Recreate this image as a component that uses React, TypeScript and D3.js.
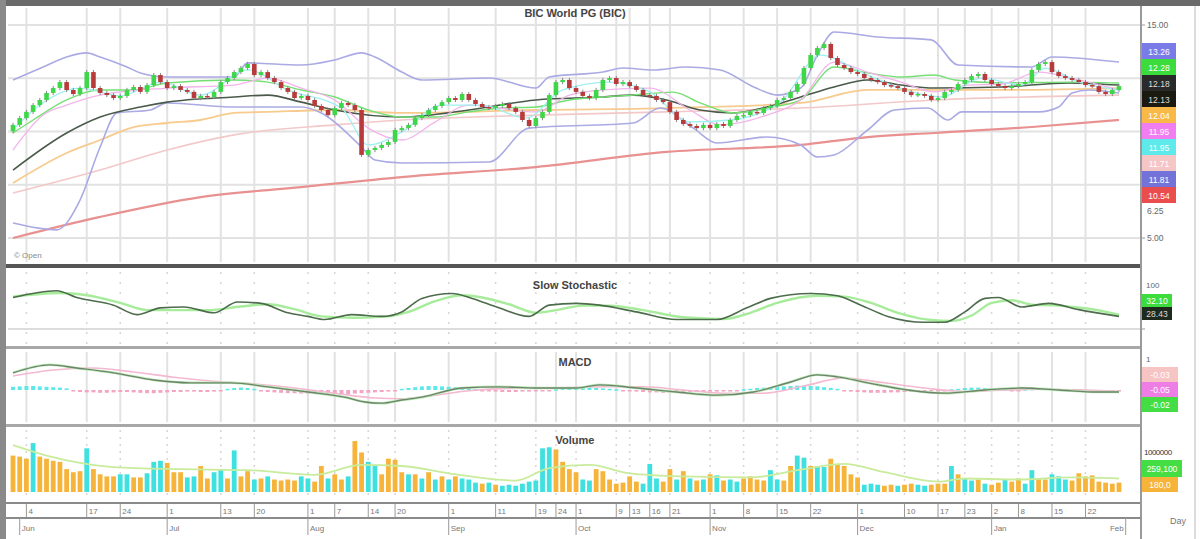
import React from "react";
import * as d3 from "d3";

// ---------- DATA ----------
const title = "BIC World PG (BIC)";
const closes = [
  10.31, 10.63, 10.92, 11.24, 11.48, 11.81, 12.04, 12.32, 11.95, 11.76,
  12.04, 12.79, 12.04, 11.81, 11.71, 11.57, 11.67, 11.95, 12.09, 11.86,
  12.18, 12.65, 12.32, 12.04, 12.13, 11.95, 11.86, 11.57, 11.67, 11.62,
  11.86, 12.32, 12.51, 12.79, 12.98, 13.17, 12.65, 12.79, 12.51, 12.32,
  12.04, 11.86, 11.57, 11.67, 11.48, 11.2, 11.01, 10.77, 11.1, 11.34,
  11.24, 11.01, 8.9, 9.13, 9.23, 9.37, 9.51, 10.07, 10.16, 10.31,
  10.63, 10.77, 11.01, 11.2, 11.38, 11.57, 11.48, 11.76, 11.48, 11.29,
  11.15, 11.1, 11.2, 11.29, 11.1, 10.92, 10.54, 10.26, 10.63, 10.92,
  11.71, 12.32, 12.42, 12.04, 11.86, 11.67, 11.57, 11.95, 12.42, 12.51,
  12.23, 12.32, 12.13, 11.95, 11.71, 11.67, 11.48, 11.38, 10.92, 10.54,
  10.35, 10.26, 10.16, 10.31, 10.16, 10.35, 10.26, 10.54, 10.73, 10.77,
  10.92, 10.87, 11.1, 11.2, 11.48, 11.57, 11.86, 12.23, 12.98, 13.59,
  13.92, 14.11, 13.45, 13.12, 12.98, 12.79, 12.7, 12.51, 12.42, 12.32,
  12.18, 12.13, 12.04, 11.86, 11.71, 11.76, 11.67, 11.48, 11.57, 11.86,
  11.95, 12.23, 12.42, 12.6, 12.7, 12.42, 12.23, 12.13, 12.04, 12.13,
  12.23, 12.32, 12.89, 13.17, 13.26, 12.79, 12.6, 12.51, 12.42, 12.32,
  12.18, 12.13, 11.86, 11.76, 11.95, 12.13,
];

const bbUpper: [number, number][] = [
  [0, 12.42], [4.5, 13.03], [8, 13.5], [11, 13.69], [13, 13.5], [17, 13.03], [19, 12.75],
  [23, 12.56], [33, 12.56], [35, 13.22], [43, 13.12], [48, 13.36], [52, 13.69], [54, 13.5],
  [58, 12.79], [61, 12.42], [71, 12.51], [78, 12.04], [80, 12.56], [88, 12.79], [91, 12.98],
  [95.5, 12.89], [100.5, 13.03], [105.5, 12.89], [110.5, 12.09], [114, 11.71], [117.5, 12.04],
  [120, 13.59], [122.5, 14.67], [129, 14.44], [137, 14.3], [141, 13.12], [152, 13.03],
  [155, 13.5], [165, 13.26],
];
const bbLower: [number, number][] = [
  [0, 5.7], [6.5, 5.38], [10, 6.78], [13, 9.27], [15.5, 10.87], [20.5, 11.01], [23, 11.34],
  [33, 11.15], [43, 11.15], [46, 10.87], [52, 9.27], [54, 8.66], [58, 8.52], [71, 8.57],
  [77, 10.16], [92.5, 10.4], [96.5, 11.1], [101.5, 10.16], [105, 9.46], [112.5, 9.74],
  [117.5, 9.37], [120, 8.8], [122.5, 8.9], [127.5, 10.07], [131.5, 11.01], [136.5, 11.1],
  [139.5, 10.54], [141.5, 10.92], [153, 10.92], [156, 11.15], [158, 11.81], [160.5, 11.95],
  [165, 11.81],
];
const maDark: [number, number][] = [
  [0, 8.19], [8, 9.93], [13, 10.68], [19, 11.15], [23, 11.38], [33, 11.62], [38, 11.71],
  [43, 11.38], [48, 11.01], [58, 10.68], [68, 11.01], [78, 11.48], [88, 11.62], [92.5, 11.71],
  [97.5, 11.48], [102.5, 11.01], [107.5, 10.87], [112.5, 11.15], [117.5, 11.62], [122.5, 12.09],
  [127.5, 12.42], [132.5, 12.18], [137.5, 12.04], [147.5, 12.09], [157.5, 12.28], [165, 12.18],
];
const maGreen: [number, number][] = [
  [0, 9.93], [3, 10.54], [8, 11.48], [13, 11.95], [18, 11.95], [23, 12.28], [33, 12.42],
  [38, 12.32], [43, 11.95], [48, 11.62], [53, 11.01], [58, 10.68], [63, 10.68], [68, 10.92],
  [73, 11.1], [78, 11.15], [83, 11.48], [88, 11.62], [92.5, 11.71], [98.5, 11.85], [102.5, 11.34],
  [107.5, 10.87], [112.5, 11.1], [117.5, 11.48], [122.5, 13.03], [127.5, 12.75], [132.5, 12.56],
  [137.5, 12.65], [140.5, 12.42], [147.5, 12.28], [157.5, 12.32], [165, 12.28],
];
const maOrange: [number, number][] = [
  [0, 7.58], [8, 8.99], [13, 9.6], [18, 10.21], [23, 10.4], [28, 10.54], [33, 10.87],
  [38, 10.92], [48, 11.01], [58, 10.87], [78, 11.01], [97.5, 11.1], [117.5, 11.34],
  [127.5, 11.95], [137.5, 11.95], [147.5, 11.95], [165, 12.04],
];
const maPink: [number, number][] = [
  [0, 7.11], [13, 8.19], [23, 9.13], [33, 9.84], [48, 10.31], [58, 10.54], [78, 10.77],
  [97.5, 10.92], [117.5, 11.1], [137.5, 11.48], [165, 11.71],
];
const maMagenta: [number, number][] = [
  [0, 9.13], [4.5, 10.77], [8, 11.24], [13, 11.71], [23, 12.04], [33, 12.18], [38, 12.51],
  [43, 12.04], [48, 11.48], [53, 10.16], [58, 9.6], [63, 10.45], [68, 11.24], [78, 10.92],
  [83, 11.71], [88, 11.95], [95, 12.04], [101, 11.01], [105.5, 10.31], [112.5, 10.77],
  [117.5, 11.48], [122.5, 13.26], [127.5, 12.79], [132.5, 12.32], [137.5, 11.86], [142.5, 12.18],
  [147.5, 12.23], [153, 12.79], [159, 12.42], [165, 11.95],
];
const maCyan: [number, number][] = [
  [0, 10.07], [4, 11.24], [10, 12.04], [16, 11.67], [22, 12.32], [28, 11.71], [35, 12.89],
  [41, 11.95], [49, 11.1], [53, 9.37], [58, 9.98], [64, 11.24], [70, 11.24], [76.5, 10.63],
  [82, 11.95], [89, 12.32], [95, 11.86], [101, 10.45], [107, 10.54], [114.5, 11.38],
  [120.5, 13.59], [126.5, 12.79], [134, 11.86], [138.5, 11.62], [144.5, 12.51], [150.5, 12.18],
  [154, 12.98], [159, 12.32], [165, 11.95],
];
const ma200: [number, number][] = [
  [0, 5.0], [13, 5.99], [28, 6.92], [43, 7.39], [58, 7.86], [78, 8.33], [97.5, 9.04],
  [117.5, 9.37], [127.5, 9.74], [137.5, 9.93], [152, 10.21], [165, 10.54],
];

const stochK: [number, number][] = [
  [0, 70], [6.5, 85], [9.5, 70], [15, 53], [18.5, 32], [22, 47], [25.5, 49], [30, 36],
  [33.5, 60], [37, 57], [41, 36], [44, 28], [46.5, 21], [50.5, 32], [55, 28], [58, 38],
  [61, 68], [65.5, 79], [68.5, 68], [72.5, 47], [77, 28], [80, 53], [84, 57], [87.5, 53],
  [93, 38], [99, 21], [105, 21], [109.5, 47], [113, 68], [119, 79], [123, 74], [126.5, 53],
  [130.5, 28], [136, 15], [139, 15], [142, 38], [145, 68], [147, 70], [150.5, 49],
  [154.5, 57], [159, 43], [165, 28],
];
const stochD: [number, number][] = [
  [0, 72], [7, 80], [11, 75], [16, 58], [20, 42], [24, 42], [29, 42], [34, 50], [38, 55],
  [42, 44], [46, 28], [51, 25], [56, 28], [59, 38], [63, 62], [67, 75], [70, 70], [74, 55],
  [78, 36], [81, 42], [85, 52], [89, 52], [94, 42], [100, 26], [106, 22], [110, 36],
  [114, 58], [120, 74], [124, 72], [128, 58], [132, 36], [137, 20], [140, 18], [143, 30],
  [146, 58], [149, 64], [152, 54], [156, 52], [160, 46], [165, 32],
];

const macdLine: [number, number][] = [
  [0, 0.43], [5.5, 0.63], [9.5, 0.55], [15, 0.43], [21, 0.25], [26.5, 0.18], [32.5, 0.18],
  [38, 0.08], [44, -0.05], [49.5, -0.18], [52.5, -0.3], [55, -0.33], [58, -0.25], [61, -0.18],
  [67, 0.05], [72.5, 0.08], [78, 0.05], [84, 0.05], [87.5, 0.13], [93, 0.05], [99, -0.05],
  [105, -0.13], [110.5, -0.05], [116, 0.2], [120, 0.38], [123, 0.33], [127.5, 0.18],
  [133.5, 0.0], [139, -0.08], [145, 0.0], [150.5, 0.05], [156, 0.0], [162, -0.05], [165, -0.05],
];
const macdSignal: [number, number][] = [
  [0, 0.35], [6, 0.5], [12, 0.55], [18, 0.45], [24, 0.32], [30, 0.22], [36, 0.15], [42, 0.05],
  [48, -0.08], [54, -0.2], [58, -0.22], [62, -0.15], [68, -0.02], [74, 0.04], [80, 0.05],
  [88, 0.08], [94, 0.08], [100, 0.0], [106, -0.08], [112, -0.08], [118, 0.1], [124, 0.3],
  [130, 0.18], [136, 0.05], [142, -0.04], [148, 0.0], [154, 0.02], [160, 0.0], [165, -0.03],
];
const macdHist = [
  0.08, 0.09, 0.1, 0.1, 0.09, 0.08, 0.07, 0.06, 0.04,
  -0.03, -0.05, -0.06, -0.06, -0.07, -0.07, -0.06, -0.05, -0.05, -0.06, -0.07, -0.08, -0.08,
  -0.07, -0.06, -0.05, -0.05, -0.04, -0.04, -0.05, -0.05, -0.04, -0.03,
  0.03, 0.05, 0.06, 0.05, 0.03,
  -0.03, -0.05, -0.06, -0.07, -0.08, -0.08, -0.09, -0.09, -0.08, -0.08, -0.09, -0.1, -0.11,
  -0.1, -0.09, -0.08, -0.07, -0.06, -0.05, -0.04, -0.02,
  0.03, 0.05, 0.07, 0.09, 0.1, 0.1, 0.09, 0.08, 0.07, 0.05, 0.04, 0.02,
  -0.02, -0.03, -0.04, -0.05, -0.05, -0.05, -0.04, -0.04, -0.03, -0.02, -0.01,
  0.02, 0.04, 0.06, 0.07, 0.07, 0.06, 0.05, 0.04, 0.03, 0.02,
  -0.02, -0.03, -0.04, -0.05, -0.06, -0.06, -0.07, -0.07, -0.07, -0.06, -0.06, -0.05, -0.05,
  -0.04, -0.04, -0.03, -0.02, -0.01,
  0.02, 0.03, 0.05, 0.06, 0.07, 0.08, 0.09, 0.1, 0.11, 0.11, 0.1, 0.09, 0.07, 0.05, 0.03,
  -0.02, -0.04, -0.05, -0.06, -0.07, -0.07, -0.07, -0.06, -0.06, -0.05, -0.05, -0.04, -0.04,
  -0.03, -0.02, -0.01,
  0.02, 0.03, 0.05, 0.06, 0.06, 0.05, 0.04, 0.03, 0.02,
  -0.01, -0.02,
  0.02, 0.03, 0.04, 0.04, 0.03, 0.02, 0.01,
  -0.01, -0.02, -0.03, -0.03, -0.03, -0.02, -0.02, -0.01,
];

// volume in thousands
const volumes = [
  700, 680, 640, 940, 680, 640, 600, 580, 440, 380, 400, 840, 440, 340, 300, 300, 340, 340,
  280, 280, 360, 580, 600, 560, 380, 380, 280, 300, 500, 260, 380, 440, 260, 800, 300, 400,
  240, 260, 300, 240, 220, 240, 220, 300, 260, 200, 500, 260, 340, 240, 300, 980, 760, 580,
  500, 340, 640, 620, 380, 340, 340, 260, 380, 240, 300, 240, 300, 260, 240, 180, 160, 180,
  140, 120, 140, 120, 160, 200, 220, 840, 860, 820, 580, 440, 380, 240, 220, 440, 400, 240,
  160, 180, 300, 200, 160, 540, 260, 200, 440, 240, 400, 260, 220, 240, 340, 320, 220, 240,
  200, 260, 300, 240, 220, 420, 240, 220, 500, 700, 660, 500, 500, 480, 640, 520, 500, 340,
  280, 140, 160, 140, 120, 140, 120, 140, 160, 140, 120, 140, 160, 160, 500, 340, 260, 220,
  240, 160, 140, 180, 240, 200, 260, 160, 420, 260, 240, 340, 300, 240, 220, 360, 300, 320,
  200, 180, 160, 180,
];
const volumeColor =
  "oooconooooocooooccoocccooocconccoconcocoooocconcoocooccoooocococococccococcccccccoooocconooooocccoocococococcooooccooccoccooooocccoocooccooococcocoocooccoocccoooo";
const volumeAvg: [number, number][] = [
  [0, 900], [5, 700], [10, 560], [15, 480], [25, 440], [35, 420], [45, 330], [52, 520],
  [58, 500], [65, 360], [75, 220], [80, 460], [86, 520], [92, 360], [100, 300], [110, 280],
  [118, 440], [124, 540], [130, 380], [138, 200], [142, 260], [150, 240], [158, 280], [165, 260],
];

const priceGrid = [15, 12.5, 10, 7.5, 5];
const priceLabels = [15, 6.25, 5];
const dayTicks = [2, 11, 16, 23, 31, 36, 44, 48, 53, 57, 65, 72, 78, 81, 84, 90, 92, 95, 98, 104, 109, 114, 119, 126, 133, 138, 142, 146, 150, 155, 160];
const dayLabels = ["4", "17", "24", "1", "13", "20", "1", "7", "14", "20", "1", "11", "19", "24", "1", "9", "13", "16", "21", "1", "8", "15", "22", "1", "10", "17", "23", "2", "8", "15", "22"];
const monthTicks = [1, 23, 44, 65, 84, 104, 126, 146, 166];
const monthLabels = ["Jun", "Jul", "Aug", "Sep", "Oct", "Nov", "Dec", "Jan", "Feb"];

const priceLegend = [
  { color: "#7b7be8", label: "13.26" },
  { color: "#3ddc3d", label: "12.28" },
  { color: "#2a2a2a", label: "12.18" },
  { color: "#1a1a10", label: "12.13" },
  { color: "#f9b948", label: "12.04" },
  { color: "#f07ef0", label: "11.95" },
  { color: "#5eeaea", label: "11.95" },
  { color: "#f5c6c6", label: "11.71" },
  { color: "#7272d8", label: "11.81" },
  { color: "#ea4d4d", label: "10.54" },
];

// ---------- CHART ----------
const W = 1200;
const H = 539;
const L = 8;
const R = 1141;
const FONT = "'Liberation Sans', Arial, sans-serif";

export default function App() {
  const N = closes.length;
  const x = d3.scaleLinear().domain([0, N - 1]).range([13, 1119]);
  const yP = d3.scaleLinear().domain([5, 15]).range([238, 25]);
  const yS = d3.scaleLinear().domain([0, 100]).range([329, 284]);
  const yM = d3.scaleLinear().domain([-1, 1]).range([430, 350]);
  const yV = d3.scaleLinear().domain([0, 1000]).range([492, 440]);

  const lineP = d3.line<[number, number]>().x((d) => x(d[0])).y((d) => yP(d[1])).curve(d3.curveMonotoneX);
  const lineS = d3.line<[number, number]>().x((d) => x(d[0])).y((d) => yS(d[1])).curve(d3.curveMonotoneX);
  const lineM = d3.line<[number, number]>().x((d) => x(d[0])).y((d) => yM(d[1])).curve(d3.curveMonotoneX);
  const lineV = d3.line<[number, number]>().x((d) => x(d[0])).y((d) => yV(d[1])).curve(d3.curveMonotoneX);

  const candles = closes.map((c, i) => {
    const o = i === 0 ? c - 0.3 : closes[i - 1];
    return { i, o, c, h: Math.max(o, c) + 0.1, l: Math.min(o, c) - 0.1 };
  });
  const cw = 4.6;

  const gridColor = "#e2e2e2";

  return (
    <svg width={W} height={H} style={{ position: "absolute", left: 0, top: 0, background: "#fff" }} fontFamily={FONT}>
      <defs>
        <clipPath id="mainClip"><rect x={L} y={6} width={R - L} height={258} /></clipPath>
      </defs>
      <rect x={0} y={0} width={W} height={H} fill="#fff" />

      {/* ---- main price panel ---- */}
      {priceGrid.map((t) => (
        <line key={"hg" + t} x1={L} x2={R} y1={yP(t)} y2={yP(t)} stroke={gridColor} strokeWidth={2} />
      ))}
      {dayTicks.map((d) => (
        <line key={"vg" + d} x1={x(d)} x2={x(d)} y1={8} y2={262} stroke={gridColor} strokeWidth={2} />
      ))}
      <text x={575} y={17} textAnchor="middle" fontSize={11} fill="#444" fontWeight="bold">{title}</text>

      <g clipPath="url(#mainClip)" fill="none">
        <path d={lineP(ma200) || ""} stroke="#e99090" strokeWidth={2.2} />
        <path d={lineP(maPink) || ""} stroke="#f3c8c8" strokeWidth={1.6} />
        <path d={lineP(maOrange) || ""} stroke="#f7cb8e" strokeWidth={1.8} />
        <path d={lineP(bbUpper) || ""} stroke="#aaaae4" strokeWidth={1.6} />
        <path d={lineP(bbLower) || ""} stroke="#aaaae4" strokeWidth={1.6} />
        <path d={lineP(maDark) || ""} stroke="#4a5a4a" strokeWidth={1.6} />
        <path d={lineP(maGreen) || ""} stroke="#74e074" strokeWidth={1.4} />
        <path d={lineP(maMagenta) || ""} stroke="#f2b4ea" strokeWidth={1.3} />
        <path d={lineP(maCyan) || ""} stroke="#9ff0f0" strokeWidth={1.3} />
        {candles.map((k) => {
          const up = k.c >= k.o;
          const col = up ? "#3fd64a" : "#b83a3a";
          const top = yP(Math.max(k.o, k.c));
          const bot = yP(Math.min(k.o, k.c));
          return (
            <g key={"c" + k.i}>
              <line x1={x(k.i)} x2={x(k.i)} y1={yP(k.h)} y2={yP(k.l)} stroke="#888" strokeWidth={1} />
              <rect x={x(k.i) - cw / 2} y={top} width={cw} height={Math.max(1.5, bot - top)} fill={col} />
            </g>
          );
        })}
      </g>
      <text x={14} y={258} fontSize={8} fill="#888">© Open</text>

      {/* right axis of main panel */}
      {priceGrid.map((t) => (
        <line key={"ptk" + t} x1={R} x2={R + 4} y1={yP(t)} y2={yP(t)} stroke="#999" />
      ))}
      {priceLabels.map((t) => (
        <text key={"pt" + t} x={R + 6} y={yP(t) + 3} fontSize={8.5} fill="#666">{t.toFixed(2)}</text>
      ))}
      {priceLegend.map((p, j) => (
        <g key={"pl" + j}>
          <rect x={R + 1} y={43 + j * 16} width={34} height={16} fill={p.color} />
          <text x={R + 18} y={43 + j * 16 + 11.5} textAnchor="middle" fontSize={8.5} fill={j === 2 || j === 3 ? "#ddd" : "#fff"}>{p.label}</text>
        </g>
      ))}

      {/* ---- stochastic panel ---- */}
      {dayTicks.map((d) => (
        <line key={"sg" + d} x1={x(d)} x2={x(d)} y1={272} y2={344} stroke="#d6d6d6" strokeWidth={1.5} strokeDasharray="2 8" />
      ))}
      <line x1={L} x2={R} y1={yS(0)} y2={yS(0)} stroke="#dcdcdc" strokeWidth={2} />
      <text x={575} y={289} textAnchor="middle" fontSize={11} fill="#444" fontWeight="bold">Slow Stochastic</text>
      <path d={lineS(stochD) || ""} fill="none" stroke="#a6ec9a" strokeWidth={2.4} />
      <path d={lineS(stochK) || ""} fill="none" stroke="#4c6c4c" strokeWidth={1.6} />
      <text x={R + 5} y={288} fontSize={8} fill="#666">100</text>
      <rect x={R + 1} y={294} width={30} height={13} fill="#3ddc3d" />
      <text x={R + 16} y={304} textAnchor="middle" fontSize={8.5} fill="#fff">32.10</text>
      <rect x={R + 1} y={307} width={30} height={13} fill="#1e2a1e" />
      <text x={R + 16} y={317} textAnchor="middle" fontSize={8.5} fill="#ddd">28.43</text>
      <line x1={R} x2={R + 4} y1={yS(0)} y2={yS(0)} stroke="#999" />

      {/* ---- MACD panel ---- */}
      {dayTicks.map((d) => (
        <line key={"mg" + d} x1={x(d)} x2={x(d)} y1={352} y2={422} stroke={gridColor} strokeWidth={2} />
      ))}
      <text x={575} y={366} textAnchor="middle" fontSize={11} fill="#444" fontWeight="bold">MACD</text>
      {macdHist.map((v, i) => (
        <rect key={"h" + i} x={x(i) - 2} y={Math.min(yM(v), yM(0))} width={4} height={Math.max(1.5, Math.abs(yM(v) - yM(0)))}
          fill={v >= 0 ? "#5fe8e8" : "#f2a6c4"} />
      ))}
      <path d={lineM(macdSignal) || ""} fill="none" stroke="#f4b8d0" strokeWidth={1.6} />
      <path d={lineM(macdLine) || ""} fill="none" stroke="#b8eab0" strokeWidth={2.6} />
      <path d={lineM(macdLine) || ""} fill="none" stroke="#6f826f" strokeWidth={1.3} />
      <line x1={R} x2={R + 4} y1={yM(0)} y2={yM(0)} stroke="#999" />
      <text x={R + 5} y={362} fontSize={8} fill="#666">1</text>
      <rect x={R + 1} y={367} width={36} height={15} fill="#f7c4c4" />
      <text x={R + 19} y={378} textAnchor="middle" fontSize={8.5} fill="#fff">-0.03</text>
      <rect x={R + 1} y={382} width={36} height={15} fill="#ee7ee6" />
      <text x={R + 19} y={393} textAnchor="middle" fontSize={8.5} fill="#fff">-0.05</text>
      <rect x={R + 1} y={397} width={36} height={15} fill="#44dd44" />
      <text x={R + 19} y={408} textAnchor="middle" fontSize={8.5} fill="#fff">-0.02</text>

      {/* ---- volume panel ---- */}
      {dayTicks.map((d) => (
        <line key={"vvg" + d} x1={x(d)} x2={x(d)} y1={430} y2={500} stroke="#d6d6d6" strokeWidth={1.5} strokeDasharray="2 5" />
      ))}
      <text x={575} y={444} textAnchor="middle" fontSize={11} fill="#444" fontWeight="bold">Volume</text>
      {volumes.map((v, i) => (
        <rect key={"v" + i} x={x(i) - 2.4} y={yV(v)} width={4.8} height={yV(0) - yV(v)}
          fill={volumeColor[i] === "c" ? "#3fe0e0" : "#f6b43a"} />
      ))}
      <path d={lineV(volumeAvg) || ""} fill="none" stroke="#c8ec9c" strokeWidth={1.8} />
      <text x={R + 3} y={455} fontSize={8} fill="#333" letterSpacing={-0.5}>1000000</text>
      <rect x={R + 1} y={460} width={40} height={17} fill="#44dd44" />
      <text x={R + 21} y={472} textAnchor="middle" fontSize={8.5} fill="#fff">259,100</text>
      <rect x={R + 1} y={477} width={36} height={15} fill="#f6b43a" />
      <text x={R + 19} y={488} textAnchor="middle" fontSize={8.5} fill="#fff">180,0</text>

      {/* ---- frames ---- */}
      <rect x={0} y={0} width={W} height={6} fill="#6a6a6a" />
      <rect x={0} y={0} width={6} height={H} fill="#8a8a8a" />
      <rect x={6} y={264} width={R - 6} height={4} fill="#555" />
      <rect x={6} y={346} width={R - 6} height={3} fill="#a8a8a8" />
      <rect x={6} y={424} width={R - 6} height={3} fill="#a8a8a8" />
      <rect x={6} y={502} width={R - 6} height={2} fill="#8a8a8a" />
      <line x1={R} x2={R} y1={6} y2={H} stroke="#9a9a9a" strokeWidth={2} />
      <line x1={1195} x2={1195} y1={6} y2={H} stroke="#d0d0d0" strokeWidth={1.5} />

      {/* ---- x axis ---- */}
      {dayTicks.map((d, j) => (
        <g key={"dt" + d}>
          <line x1={x(d)} x2={x(d)} y1={504} y2={518} stroke="#999" strokeWidth={1} />
          <text x={x(d) + 2} y={514} fontSize={8} fill="#777">{dayLabels[j]}</text>
        </g>
      ))}
      <rect x={6} y={517} width={R - 6} height={2} fill="#8a8a8a" />
      {monthTicks.map((m, j) => (
        <g key={"mt" + m}>
          <line x1={x(m)} x2={x(m)} y1={518} y2={535} stroke="#999" strokeWidth={1} />
          <text x={j === monthTicks.length - 1 ? x(m) - 2 : x(m) + 2} y={531} fontSize={8} fill="#777"
            textAnchor={j === monthTicks.length - 1 ? "end" : "start"}>{monthLabels[j]}</text>
        </g>
      ))}
      <text x={1170} y={524} fontSize={9} fill="#777">Day</text>
    </svg>
  );
}
